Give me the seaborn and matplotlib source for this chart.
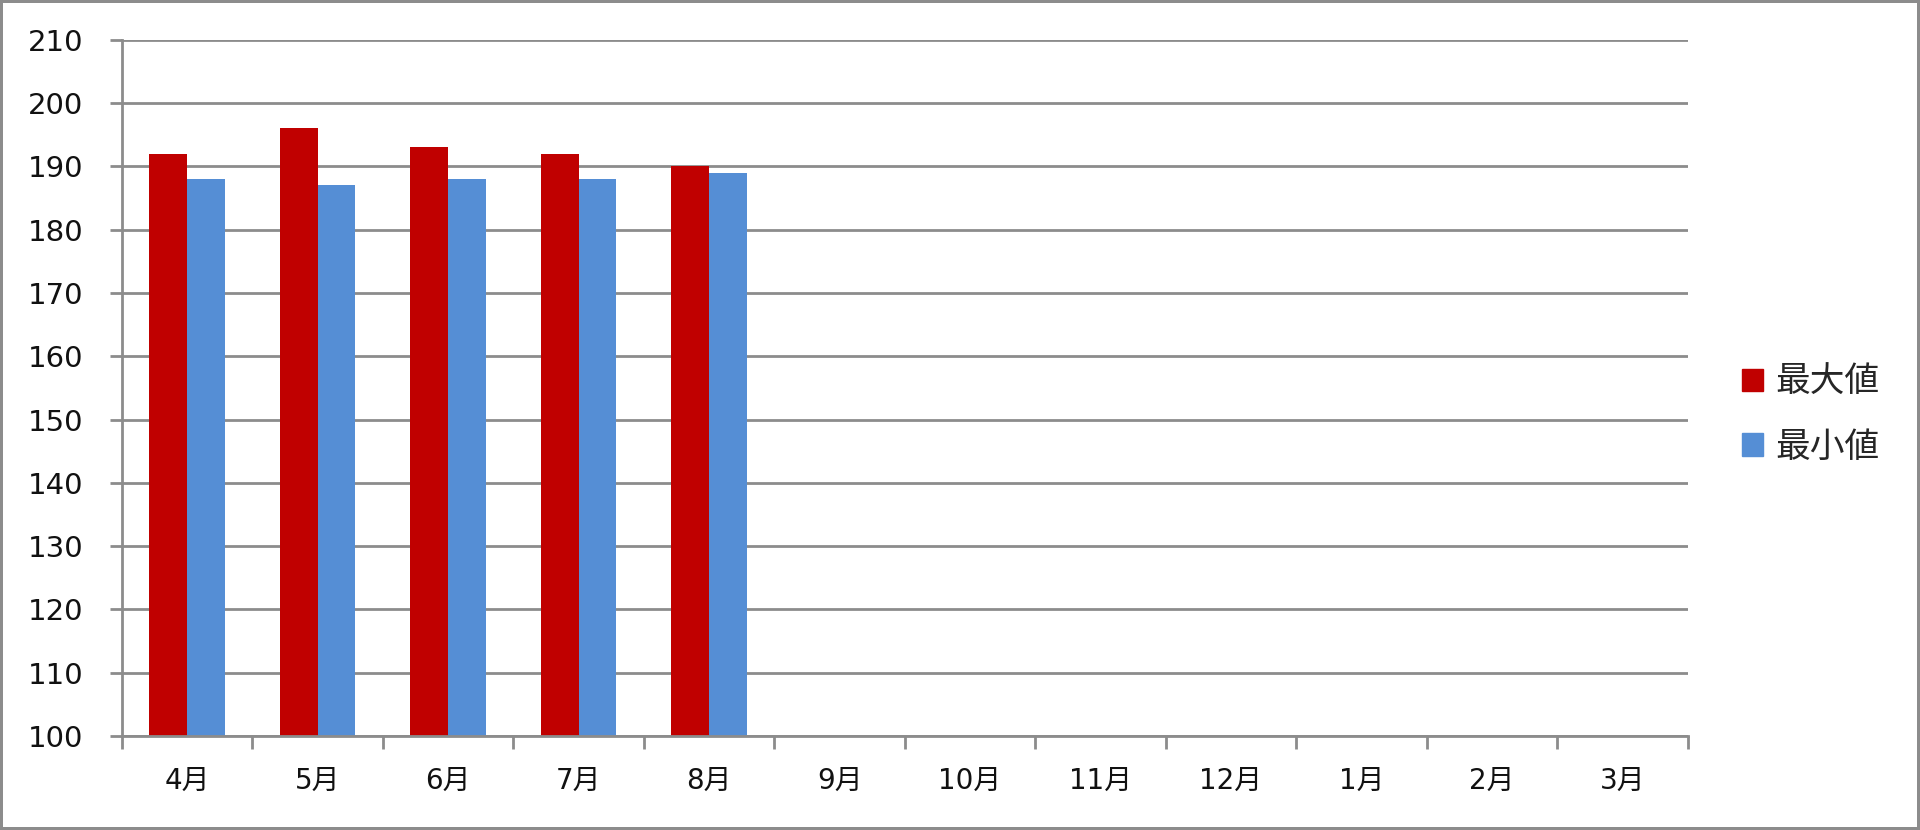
import seaborn as sns
import matplotlib.pyplot as plt
import pandas as pd

# data
months = ["4月", "5月", "6月", "7月", "8月", "9月", "10月", "11月", "12月", "1月", "2月", "3月"]
max_vals = [192, 196, 193, 192, 190]
min_vals = [188, 187, 188, 188, 189]
series = ["最大値", "最小値"]
colors = ["#C00000", "#558ED5"]

n = len(max_vals)
df = pd.DataFrame({
    "month": months[:n] * 2,
    "value": max_vals + min_vals,
    "series": [series[0]] * n + [series[1]] * n,
})

sns.set_style("white")
plt.rcParams["font.family"] = ["DejaVu Sans", "Noto Sans CJK JP"]

fig = plt.figure(figsize=(19.2, 8.3), dpi=100)
fig.patch.set_edgecolor("#8c8c8c")
fig.patch.set_linewidth(3)
ax = fig.add_axes([0.0635, 0.1133, 0.8155, 0.8387])

sns.barplot(data=df, x="month", y="value", hue="series", order=months,
            hue_order=series, palette=colors, width=0.58, saturation=1,
            edgecolor="none", ax=ax, legend=False)

ax.set_ylim(100, 210)
ax.set_xlim(-0.5, len(months) - 0.5)
ax.set_yticks(range(100, 211, 10))
ax.set_xticks(range(len(months)))
ax.set_xticklabels(months)
ax.set_xticks([i - 0.5 for i in range(len(months) + 1)], minor=True)
ax.yaxis.grid(True, color="#8c8c8c", linewidth=2)
ax.set_axisbelow(True)
for s in ["top", "right"]:
    ax.spines[s].set_visible(False)
for s in ["left", "bottom"]:
    ax.spines[s].set_color("#8c8c8c")
    ax.spines[s].set_linewidth(2)
ax.tick_params(axis="y", which="major", length=9, width=2, color="#8c8c8c",
               labelsize=21, pad=19, direction="out", left=True,
               labelcolor="#111111")
ax.tick_params(axis="x", which="major", length=0, labelsize=20, pad=22,
               labelcolor="#111111")
ax.tick_params(axis="x", which="minor", length=9, width=2, color="#8c8c8c",
               direction="out", bottom=True)
ax.set_xlabel("")
ax.set_ylabel("")

handles = [plt.Rectangle((0, 0), 1, 1, color=c) for c in colors]
fig.legend(handles, series, loc="center left", bbox_to_anchor=(0.891, 0.5),
           frameon=False, handlelength=0.6, handleheight=0.6,
           handletextpad=0.35, labelspacing=0.85,
           prop={"family": ["Noto Sans CJK JP"], "size": 25})

fig.savefig("out.png", dpi=100)
